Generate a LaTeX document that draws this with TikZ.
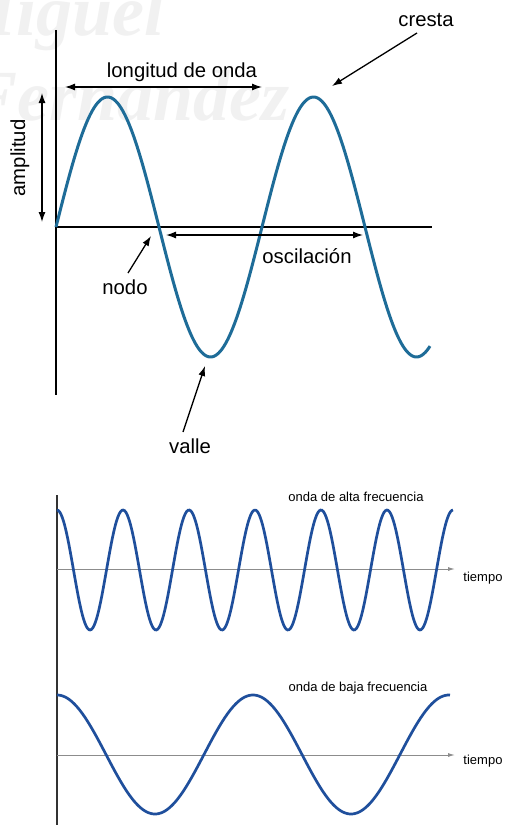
\documentclass[tikz,border=0pt]{standalone}
\usepackage{fontspec}
\setmainfont{Liberation Sans}
\newfontfamily\wmfont{Liberation Serif}
\usetikzlibrary{arrows.meta}
\definecolor{wavetop}{HTML}{1E6C98}
\definecolor{wavebot}{HTML}{1F4F9C}
\definecolor{axisgray}{HTML}{8C8C8C}
\definecolor{wmark}{HTML}{F1F1F1}
\begin{document}
\begin{tikzpicture}[x=1pt,y=-1pt,
  lbl/.style={inner sep=0pt,font=\fontsize{20.3}{20.3}\selectfont},
  smalllbl/.style={inner sep=0pt,font=\fontsize{13}{13}\selectfont},
  axisline/.style={line width=1.3pt,black},
  pointer/.style={line width=1.3pt,-{Latex[length=10pt,width=7pt]}},
  dimarrow/.style={line width=1.3pt,{Latex[length=10pt,width=7pt]}-{Latex[length=10pt,width=7pt]}},
  topwave/.style={line width=3pt,wavetop},
  botwave/.style={line width=2.7pt,wavebot},
  grayaxis/.style={line width=1pt,axisgray,-{Latex[length=7pt,width=4pt]}}]
\useasboundingbox (0,0) rectangle (504,825);
\fill[white] (0,0) rectangle (504,825);
% watermark
\begin{scope}
\clip (0,0) rectangle (504,825);
\node[wmark,anchor=base east,inner sep=0pt,font=\wmfont\bfseries\itshape\fontsize{72}{72}\selectfont] (wm1) at (165,35) {Miguel};
\node[wmark,anchor=base east,inner sep=0pt,font=\wmfont\bfseries\itshape\fontsize{72}{72}\selectfont] (wm2) at (290,120) {Fernandez};
\end{scope}
% ---------- top diagram ----------
\coordinate (vtop) at (56,30);
\coordinate (vbot) at (56,395);
\coordinate (hl) at (56,227);
\coordinate (hr) at (432,227);
\draw[axisline] (vtop) -- (vbot);
\draw[axisline] (hl) -- (hr);
\draw[topwave] plot[domain=56:430,samples=240,smooth] (\x,{227-130*sin((\x-56)/206*360)});
% longitud de onda
\coordinate (lwa) at (65,87);
\coordinate (lwb) at (262,87);
\draw[dimarrow] (lwa) -- (lwb);
\node[lbl] (lw) at (182,72) {longitud de onda};
% amplitud
\coordinate (ampa) at (42,93);
\coordinate (ampb) at (42,222);
\draw[dimarrow] (ampa) -- (ampb);
\node[lbl,rotate=90] (amp) at (20,158) {amplitud};
% cresta
\node[lbl] (cresta) at (426,20) {cresta};
\coordinate (crestatip) at (332,86);
\draw[pointer] (417,33) -- (crestatip);
% oscilacion
\coordinate (osa) at (166,235);
\coordinate (osb) at (363,235);
\draw[dimarrow] (osa) -- (osb);
\node[lbl] (osc) at (307,256) {oscilación};
% nodo
\node[lbl] (nodo) at (125,287) {nodo};
\coordinate (nodotip) at (151,236);
\draw[pointer] (128,273) -- (nodotip);
% valle
\node[lbl] (valle) at (190,446) {valle};
\coordinate (valletip) at (205,366);
\draw[pointer] (183,432) -- (valletip);
% ---------- bottom diagram ----------
\coordinate (bvtop) at (57,495);
\coordinate (bvbot) at (57,825);
\draw[line width=1.3pt,black!80] (bvtop) -- (bvbot);
% high frequency
\coordinate (hfa) at (57,569);
\coordinate (hfb) at (455,569);
\draw[grayaxis] (hfa) -- (hfb);
\draw[botwave] plot[domain=57:453,samples=300,smooth] (\x,{570-60*cos((\x-57)/66*360)});
\node[smalllbl] (hflbl) at (356,497) {onda de alta frecuencia};
\node[smalllbl] (t1) at (483,578) {tiempo};
% low frequency
\coordinate (lfa) at (57,755);
\coordinate (lfb) at (455,755);
\draw[grayaxis] (lfa) -- (lfb);
\draw[botwave] plot[domain=57:450,samples=300,smooth] (\x,{754.5-59.5*cos((\x-57)/196*360)});
\node[smalllbl] (lflbl) at (358,688) {onda de baja frecuencia};
\node[smalllbl] (t2) at (483,761) {tiempo};
\end{tikzpicture}
\end{document}
